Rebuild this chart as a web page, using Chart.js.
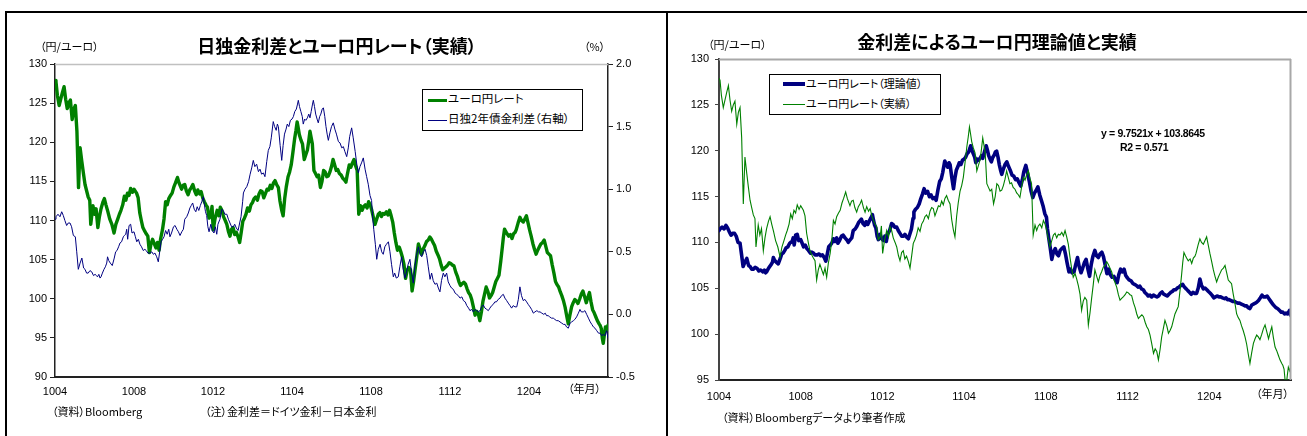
<!DOCTYPE html>
<html lang="ja">
<head>
<meta charset="utf-8">
<title>日独金利差とユーロ円レート</title>
<script src="https://cdn.jsdelivr.net/npm/chart.js@4.4.1/dist/chart.umd.min.js"></script>
<style>
  html, body { margin: 0; padding: 0; background: #fff; }
  #page { position: relative; width: 1307px; height: 436px; overflow: hidden; background: #fff;
          font-family: "Noto Sans CJK JP", "Noto Sans", sans-serif; color: #000;
          font-feature-settings: "palt"; }
  canvas { position: absolute; top: 0; }
  .rule { position: absolute; background: #000; }
  .txt { position: absolute; white-space: nowrap; line-height: 1; }
  .title { font-weight: 700; font-size: 18px; transform: translateX(-50%); }
  .small { font-size: 11px; }
  .legend { position: absolute; border: 1px solid #000; background: #fff; box-sizing: border-box; }
  .legend .row { position: absolute; left: 0; white-space: nowrap; font-size: 11px; line-height: 1; }
  .legend .sw { position: absolute; }
  .eq { position: absolute; white-space: nowrap; font-family: "Liberation Sans", Arial, sans-serif;
        font-weight: 700; font-size: 10.5px; letter-spacing: -0.35px; line-height: 1; }
</style>
</head>
<body>
<div id="page">
  <canvas id="leftChart" width="666" height="436" style="left:0;width:666px;height:436px"></canvas>
  <canvas id="rightChart" width="639" height="436" style="left:668px;width:639px;height:436px"></canvas>

  <!-- frame -->
  <div class="rule" style="left:5px;top:11px;width:1302px;height:2px"></div>
  <div class="rule" style="left:5px;top:11px;width:2px;height:425px"></div>
  <div class="rule" style="left:666px;top:11px;width:2px;height:425px"></div>

  <!-- left panel texts -->
  <div class="txt title" style="left:337px;top:36px">日独金利差とユーロ円レート（実績）</div>
  <div class="txt small" style="left:40px;top:41px">（円/ユーロ）</div>
  <div class="txt small" style="left:584px;top:41px">（%）</div>
  <div class="txt small" style="left:568px;top:383px">（年月）</div>
  <div class="txt small" style="left:52px;top:406px">（資料）Bloomberg</div>
  <div class="txt small" style="left:205px;top:406px">（注）金利差＝ドイツ金利－日本金利</div>
  <div class="legend" id="legendLeft" style="left:422px;top:89px;width:161px;height:42px"></div>

  <!-- right panel texts -->
  <div class="txt title" style="left:997px;top:32px">金利差によるユーロ円理論値と実績</div>
  <div class="txt small" style="left:708px;top:39px">（円/ユーロ）</div>
  <div class="txt small" style="left:1256px;top:388px">（年月）</div>
  <div class="txt small" style="left:722px;top:412px">（資料）Bloombergデータより筆者作成</div>
  <div class="legend" id="legendRight" style="left:769px;top:74px;width:172px;height:41px"></div>
  <div class="eq" id="eqLine" style="left:1101px;top:128px"></div>
  <div class="eq" id="r2Line" style="left:1120px;top:142px"></div>
</div>

<script>
// Months elapsed since the start of April 2010 (x positions) and EUR/JPY rate (yen per euro)
const rateMonths = [
  0.00,0.05,0.12,0.21,0.30,0.38,0.46,0.54,0.62,0.70,0.78,0.87,0.95,1.03,1.11,1.19,1.27,1.36,1.44,1.52,
  1.60,1.68,1.76,1.81,1.92,2.00,2.08,2.17,2.25,2.33,2.42,2.50,2.58,2.67,2.77,2.88,2.99,3.08,3.18,3.26,
  3.34,3.43,3.51,3.59,3.67,3.75,3.83,3.92,4.00,4.13,4.21,4.29,4.37,4.45,4.55,4.62,4.70,4.78,4.86,4.94,
  5.03,5.11,5.19,5.27,5.35,5.44,5.52,5.60,5.68,5.76,5.85,5.93,6.02,6.10,6.20,6.28,6.41,6.49,6.57,6.65,
  6.74,6.82,6.90,6.98,7.07,7.15,7.23,7.32,7.40,7.48,7.56,7.64,7.72,7.80,7.89,7.95,8.01,8.10,8.21,8.30,
  8.37,8.45,8.53,8.62,8.70,8.78,8.86,8.94,9.02,9.10,9.18,9.27,9.35,9.43,9.51,9.59,9.67,9.75,9.84,9.92,
  10.00,10.08,10.16,10.25,10.33,10.41,10.49,10.57,10.65,10.74,10.82,10.90,10.98,11.06,11.14,11.22,11.31,11.39,11.47,11.55,
  11.63,11.71,11.80,11.88,11.96,12.04,12.13,12.20,12.26,12.31,12.37,12.45,12.53,12.62,12.70,12.78,12.85,12.91,12.97,13.03,
  13.11,13.19,13.27,13.35,13.44,13.52,13.60,13.68,13.76,13.84,13.92,14.00,14.08,14.16,14.24,14.32,14.40,14.49,14.57,14.65,
  14.73,14.81,14.90,14.98,15.05,15.14,15.22,15.30,15.38,15.47,15.55,15.63,15.71,15.80,15.88,15.96,16.04,16.12,16.20,16.29,
  16.37,16.45,16.53,16.61,16.69,16.78,16.86,16.94,17.02,17.10,17.18,17.26,17.34,17.43,17.51,17.59,17.67,17.75,17.83,17.91,
  18.00,18.08,18.16,18.24,18.32,18.40,18.49,18.57,18.65,18.73,18.81,18.90,18.98,19.06,19.14,19.22,19.30,19.39,19.47,19.55,
  19.63,19.71,19.80,19.88,19.96,20.04,20.12,20.20,20.29,20.37,20.45,20.53,20.61,20.70,20.78,20.86,20.94,21.02,21.10,21.18,
  21.27,21.35,21.43,21.51,21.59,21.67,21.75,21.83,21.92,22.00,22.08,22.16,22.24,22.32,22.40,22.48,22.57,22.65,22.70,22.76,
  22.82,22.89,22.97,23.06,23.14,23.22,23.30,23.35,23.45,23.54,23.62,23.71,23.79,23.87,23.95,24.03,24.11,24.20,24.28,24.36,
  24.44,24.52,24.60,24.69,24.77,24.85,24.93,25.01,25.09,25.17,25.26,25.34,25.42,25.50,25.58,25.66,25.75,25.83,25.91,25.99,
  26.07,26.16,26.24,26.32,26.40,26.48,26.57,26.65,26.73,26.81,26.90,26.98,27.06,27.14,27.22,27.30,27.38,27.46,27.55,27.60,
  27.66,27.71,27.76,27.82,27.87,27.93,28.00
];
const rateValues = [
  127.9,127.7,126.0,124.7,125.6,126.4,127.1,125.5,124.3,125.0,125.4,122.9,124.2,124.7,121.4,114.2,119.3,117.5,116.0,114.6,
  113.8,113.0,112.6,109.5,111.9,110.8,111.5,109.1,110.5,111.5,112.3,112.8,112.0,111.2,110.2,109.5,108.4,109.5,110.2,110.8,
  111.3,112.0,113.1,112.6,113.5,113.2,114.1,113.6,114.0,113.5,112.9,111.0,110.0,109.1,108.6,108.3,108.0,105.9,107.0,107.6,
  107.0,106.5,107.2,106.2,107.7,108.8,110.2,112.4,112.0,112.8,113.2,113.5,114.3,114.8,115.5,114.8,114.0,114.5,114.6,113.8,
  113.3,113.9,114.2,114.6,113.8,113.3,113.9,113.4,113.7,112.9,112.4,112.0,111.7,110.3,110.6,111.8,108.8,110.2,111.3,110.6,
  111.7,111.3,110.5,110.0,109.5,108.6,108.0,108.9,109.1,108.2,108.5,107.9,107.2,108.5,109.9,110.3,110.8,111.6,111.2,112.0,
  112.3,112.8,113.0,112.6,113.4,113.8,113.7,112.9,113.4,114.0,113.9,114.5,114.1,114.8,115.1,114.6,114.2,112.5,111.4,110.6,
  112.8,114.3,115.6,116.2,117.1,118.6,120.4,121.5,122.6,121.9,121.0,120.3,119.8,117.8,118.4,119.0,120.2,121.4,120.6,119.8,
  116.4,116.0,115.6,115.8,114.2,115.0,116.4,116.2,115.6,115.7,116.2,116.9,117.8,117.1,116.4,116.5,116.0,115.8,115.4,115.2,
  114.9,116.0,117.1,116.8,117.3,117.8,117.0,116.4,110.8,111.9,111.3,111.8,112.0,111.6,112.4,112.0,111.3,110.4,109.5,110.2,
  110.8,111.0,110.5,110.9,110.8,111.1,110.7,111.3,110.6,109.8,108.4,107.2,106.2,106.6,106.0,105.3,104.4,102.6,103.6,104.0,
  103.7,101.0,102.3,103.9,105.4,107.0,106.3,105.7,106.4,106.8,107.3,107.5,107.9,107.6,107.2,106.8,106.1,105.6,105.1,104.3,
  103.7,103.9,104.1,104.3,104.6,104.5,104.3,104.2,103.4,102.9,102.2,101.7,101.9,102.1,101.9,101.3,100.8,100.5,99.9,99.0,
  97.9,98.4,98.1,97.2,98.3,99.7,100.6,101.5,100.9,100.1,100.4,100.8,101.5,102.2,102.6,103.0,104.8,106.6,107.8,108.9,
  108.6,108.3,108.0,108.2,107.7,108.3,108.5,108.8,109.7,110.4,110.0,109.8,110.2,110.6,109.7,108.8,108.0,107.0,106.3,105.7,
  106.2,106.6,107.0,107.2,107.5,106.7,105.9,105.7,105.5,104.4,103.3,102.2,101.8,101.5,100.9,100.4,99.7,98.9,97.8,96.8,
  97.9,99.0,99.5,99.9,99.7,99.4,100.0,100.6,101.0,100.3,99.5,100.2,100.8,99.6,98.6,98.2,97.7,97.2,96.8,96.6,
  96.2,95.0,94.3,95.5,96.4,96.0,96.6
];

// Germany minus Japan 2-year government bond yield spread (%)
const spreadMonths = [
  0.00,0.05,0.15,0.25,0.34,0.42,0.50,0.59,0.67,0.76,0.84,0.93,1.03,1.10,1.18,1.27,1.36,1.45,1.52,1.60,
  1.68,1.77,1.86,1.95,2.03,2.10,2.15,2.22,2.28,2.33,2.40,2.48,2.55,2.62,2.66,2.72,2.80,2.90,3.00,3.07,
  3.14,3.22,3.29,3.37,3.46,3.51,3.58,3.63,3.68,3.75,3.83,3.90,4.00,4.07,4.14,4.22,4.30,4.38,4.47,4.55,
  4.62,4.70,4.81,4.90,4.98,5.06,5.15,5.23,5.30,5.37,5.45,5.52,5.60,5.68,5.76,5.82,5.90,6.00,6.08,6.17,
  6.25,6.33,6.42,6.50,6.57,6.67,6.75,6.83,6.90,6.97,7.05,7.13,7.20,7.28,7.36,7.43,7.51,7.56,7.62,7.68,
  7.74,7.80,7.89,7.96,8.05,8.12,8.19,8.25,8.35,8.45,8.52,8.60,8.70,8.78,8.86,8.94,9.03,9.10,9.18,9.27,
  9.35,9.42,9.50,9.54,9.62,9.71,9.80,9.88,9.96,10.04,10.12,10.21,10.30,10.38,10.46,10.55,10.63,10.72,10.80,10.88,
  10.95,11.05,11.12,11.20,11.26,11.31,11.40,11.48,11.55,11.62,11.70,11.76,11.84,11.92,12.00,12.07,12.14,12.22,12.28,12.32,
  12.38,12.45,12.52,12.57,12.64,12.70,12.78,12.85,12.91,12.97,13.04,13.08,13.14,13.20,13.27,13.33,13.40,13.46,13.53,13.59,
  13.66,13.72,13.78,13.84,13.92,14.00,14.09,14.17,14.25,14.35,14.43,14.52,14.60,14.68,14.77,14.85,14.92,15.02,15.10,15.20,
  15.28,15.36,15.44,15.52,15.61,15.70,15.78,15.86,15.95,16.03,16.08,16.14,16.22,16.29,16.37,16.46,16.54,16.62,16.70,16.78,
  16.88,16.96,17.04,17.13,17.20,17.28,17.38,17.46,17.55,17.63,17.72,17.80,17.88,17.97,18.05,18.14,18.22,18.30,18.40,18.48,
  18.57,18.65,18.74,18.82,18.90,18.99,19.07,19.15,19.24,19.33,19.41,19.49,19.57,19.66,19.74,19.83,19.91,20.00,20.08,20.17,
  20.26,20.34,20.42,20.51,20.60,20.68,20.77,20.85,20.94,21.01,21.10,21.18,21.27,21.35,21.44,21.52,21.60,21.69,21.77,21.86,
  21.94,22.02,22.11,22.19,22.27,22.35,22.44,22.53,22.61,22.70,22.78,22.87,22.95,23.04,23.12,23.20,23.29,23.38,23.46,23.54,
  23.62,23.71,23.79,23.88,23.96,24.05,24.13,24.22,24.30,24.40,24.48,24.56,24.65,24.75,24.82,24.89,24.97,25.05,25.14,25.23,
  25.31,25.40,25.48,25.57,25.66,25.75,25.83,25.90,25.99,26.08,26.16,26.25,26.32,26.41,26.50,26.58,26.65,26.75,26.83,26.92,
  27.01,27.10,27.18,27.26,27.34,27.43,27.52,27.60,27.68,27.76,27.84,27.93,28.00
];
const spreadValues = [
  0.76,0.78,0.80,0.78,0.82,0.79,0.75,0.71,0.73,0.73,0.70,0.63,0.62,0.50,0.36,0.41,0.45,0.37,0.36,0.33,
  0.33,0.35,0.34,0.31,0.32,0.31,0.30,0.32,0.29,0.30,0.33,0.36,0.38,0.41,0.46,0.43,0.41,0.39,0.45,0.50,
  0.51,0.54,0.57,0.58,0.62,0.63,0.64,0.68,0.60,0.71,0.72,0.65,0.66,0.62,0.58,0.60,0.56,0.54,0.51,0.52,
  0.51,0.49,0.49,0.50,0.48,0.49,0.46,0.42,0.50,0.58,0.60,0.62,0.67,0.64,0.68,0.62,0.65,0.70,0.71,0.68,
  0.66,0.63,0.66,0.68,0.76,0.78,0.81,0.85,0.87,0.89,0.84,0.82,0.86,0.83,0.87,0.90,0.94,0.88,0.82,0.79,
  0.70,0.66,0.72,0.67,0.65,0.70,0.64,0.72,0.76,0.84,0.83,0.80,0.80,0.76,0.73,0.70,0.70,0.72,0.69,0.67,
  0.73,0.78,0.90,0.97,1.00,1.02,1.06,1.12,1.17,1.23,1.18,1.20,1.14,1.16,1.12,1.13,1.10,1.22,1.31,1.34,
  1.41,1.54,1.50,1.47,1.52,1.50,1.35,1.23,1.35,1.44,1.48,1.52,1.50,1.55,1.56,1.58,1.62,1.64,1.68,1.71,
  1.66,1.62,1.58,1.52,1.56,1.55,1.57,1.60,1.57,1.62,1.68,1.71,1.66,1.60,1.56,1.53,1.58,1.60,1.64,1.65,
  1.58,1.50,1.44,1.39,1.45,1.50,1.53,1.48,1.44,1.38,1.37,1.33,1.34,1.30,1.26,1.33,1.42,1.49,1.41,1.30,
  1.20,1.13,1.18,1.21,1.25,1.16,1.10,1.04,0.95,0.91,0.78,0.68,0.56,0.44,0.52,0.56,0.50,0.48,0.54,0.56,
  0.58,0.50,0.40,0.30,0.33,0.29,0.30,0.38,0.46,0.36,0.29,0.34,0.40,0.44,0.34,0.25,0.38,0.47,0.54,0.48,
  0.46,0.50,0.52,0.47,0.38,0.28,0.33,0.27,0.24,0.25,0.21,0.18,0.27,0.33,0.30,0.33,0.26,0.23,0.21,0.20,
  0.17,0.16,0.15,0.13,0.14,0.11,0.10,0.07,0.05,0.03,0.04,0.02,0.04,0.03,0.02,0.03,0.06,0.075,0.05,0.04,
  0.03,0.05,0.07,0.08,0.10,0.10,0.12,0.13,0.15,0.16,0.13,0.11,0.09,0.07,0.05,0.07,0.06,0.06,0.12,0.22,
  0.15,0.11,0.12,0.10,0.08,0.06,0.04,0.01,0.02,0.03,0.02,0.02,0.01,0.00,0.01,-0.01,-0.01,-0.02,-0.03,-0.03,
  -0.04,-0.05,-0.05,-0.06,-0.07,-0.08,-0.08,-0.10,-0.11,-0.07,-0.06,-0.05,-0.04,-0.02,0.01,0.04,0.02,0.02,0.03,0.00,
  -0.03,-0.06,-0.08,-0.10,-0.11,-0.13,-0.15,-0.15,-0.17,-0.16,-0.17,-0.13,-0.19
];

// Regression of the rate on the spread, as printed on the right panel
const SLOPE = 9.7521;
const INTERCEPT = 103.8645;
const R2 = 0.571;

// Axis tick labels (yymm), one every four months
const tickLabels = ['1004', '1008', '1012', '1104', '1108', '1112', '1204'];

const RATE_LABEL = 'ユーロ円レート';
const SPREAD_LABEL = '日独2年債金利差（右軸）';
const THEORY_LABEL = 'ユーロ円レート（理論値）';
const ACTUAL_LABEL = 'ユーロ円レート（実績）';

const GREEN = '#008000';
const NAVY = '#000080';

const ratePoints = rateMonths.map((m, i) => ({ x: m, y: rateValues[i] }));
const spreadPoints = spreadMonths.map((m, i) => ({ x: m, y: spreadValues[i] }));
// theoretical rate implied by the spread through the regression line
const theoryPoints = spreadMonths.map((m, i) => ({ x: m, y: SLOPE * spreadValues[i] + INTERCEPT }));

const tickFont = { family: '"Liberation Sans", Arial, sans-serif', size: 11 };

function monthAxis(height, pad) {
  return {
    type: 'linear', min: 0, max: 28,
    afterFit: (s) => { s.height = height; },
    ticks: {
      stepSize: 4, autoSkip: false, maxRotation: 0, padding: pad, color: '#000', font: tickFont,
      callback: (v) => { const k = v / 4; return Number.isInteger(k) && k < tickLabels.length ? tickLabels[k] : ''; }
    },
    grid: { drawOnChartArea: false, drawTicks: false, color: 'rgba(0,0,0,0)' },
    border: { color: '#222', width: 2 }
  };
}

// draws the light frame lines along the top (and optionally right) of the plot area
const plotFrame = {
  id: 'plotFrame',
  afterDatasetsDraw(chart, args, opts) {
    const { ctx, chartArea: a } = chart;
    ctx.save();
    ctx.strokeStyle = opts.color;
    ctx.lineWidth = opts.width;
    ctx.beginPath();
    ctx.moveTo(a.left, a.top + 0.5);
    ctx.lineTo(a.right, a.top + 0.5);
    if (opts.right) {
      ctx.moveTo(a.right - 0.5, a.top);
      ctx.lineTo(a.right - 0.5, a.bottom);
    }
    ctx.stroke();
    ctx.restore();
  }
};

Chart.register(plotFrame);

// Left panel: actual rate (left axis) and yield spread (right axis)
new Chart(document.getElementById('leftChart'), {
  type: 'line',
  data: {
    datasets: [
      { label: RATE_LABEL, data: ratePoints, yAxisID: 'y', borderColor: GREEN, borderWidth: 3.4,
        pointRadius: 0, borderJoinStyle: 'round', borderCapStyle: 'round', order: 1 },
      { label: SPREAD_LABEL, data: spreadPoints, yAxisID: 'y2', borderColor: NAVY, borderWidth: 1,
        pointRadius: 0, order: 0 }
    ]
  },
  options: {
    responsive: false, animation: false, events: [],
    layout: { padding: { top: 64, left: 0, right: 0, bottom: 0 } },
    plugins: { legend: { display: false }, tooltip: { enabled: false },
               plotFrame: { color: '#c0c0c0', width: 1.5, right: false } },
    scales: {
      x: monthAxis(59, 8),
      y: {
        position: 'left', min: 90, max: 130,
        afterFit: (s) => { s.width = 55; },
        ticks: { stepSize: 5, padding: 3, color: '#000', font: tickFont },
        grid: { drawOnChartArea: false, tickLength: 5, color: '#222' },
        border: { color: '#222', width: 1.5 }
      },
      y2: {
        position: 'right', min: -0.5, max: 2.0,
        afterFit: (s) => { s.width = 58; },
        ticks: { stepSize: 0.5, padding: 3, color: '#000', font: tickFont, callback: (v) => v.toFixed(1) },
        grid: { drawOnChartArea: false, tickLength: 5, color: '#222' },
        border: { color: '#222', width: 1.5 }
      }
    }
  }
});

// Right panel: theoretical vs actual rate
new Chart(document.getElementById('rightChart'), {
  type: 'line',
  data: {
    datasets: [
      { label: THEORY_LABEL, data: theoryPoints, borderColor: NAVY, borderWidth: 3.6,
        pointRadius: 0, borderJoinStyle: 'round', borderCapStyle: 'round', order: 1 },
      { label: ACTUAL_LABEL, data: ratePoints, borderColor: GREEN, borderWidth: 1.1,
        pointRadius: 0, order: 0 }
    ]
  },
  options: {
    responsive: false, animation: false, events: [],
    layout: { padding: { top: 59, left: 0, right: 16, bottom: 0 } },
    plugins: { legend: { display: false }, tooltip: { enabled: false },
               plotFrame: { color: '#a8a8a8', width: 2, right: true } },
    scales: {
      x: monthAxis(56, 10),
      y: {
        position: 'left', min: 95, max: 130,
        afterFit: (s) => { s.width = 51; },
        ticks: { stepSize: 5, padding: 6, color: '#000', font: tickFont },
        grid: { drawOnChartArea: false, tickLength: 4, color: '#444' },
        border: { color: '#444', width: 2 }
      }
    }
  }
});

// legends and regression text
function buildLegend(el, rows) {
  rows.forEach((r) => {
    const sw = document.createElement('div');
    sw.className = 'sw';
    sw.style.cssText = `left:${r.x0}px;top:${r.y - r.w / 2}px;width:${r.len}px;height:${r.w}px;background:${r.color}`;
    el.appendChild(sw);
    const t = document.createElement('div');
    t.className = 'row';
    t.style.cssText = `left:${r.x0 + r.len + 1}px;top:${r.y - r.fs / 2 - 1}px;font-size:${r.fs}px`;
    t.textContent = r.label;
    el.appendChild(t);
  });
}
buildLegend(document.getElementById('legendLeft'), [
  { label: RATE_LABEL, color: GREEN, w: 3, x0: 5, len: 19, y: 10, fs: 11.5 },
  { label: SPREAD_LABEL, color: NAVY, w: 1, x0: 5, len: 19, y: 30, fs: 11.5 }
]);
buildLegend(document.getElementById('legendRight'), [
  { label: THEORY_LABEL, color: NAVY, w: 4, x0: 13, len: 22, y: 9, fs: 11 },
  { label: ACTUAL_LABEL, color: GREEN, w: 1, x0: 13, len: 22, y: 29, fs: 11 }
]);
document.getElementById('eqLine').textContent = `y = ${SLOPE}x + ${INTERCEPT}`;
document.getElementById('r2Line').textContent = `R2 = ${R2}`;
</script>
</body>
</html>
